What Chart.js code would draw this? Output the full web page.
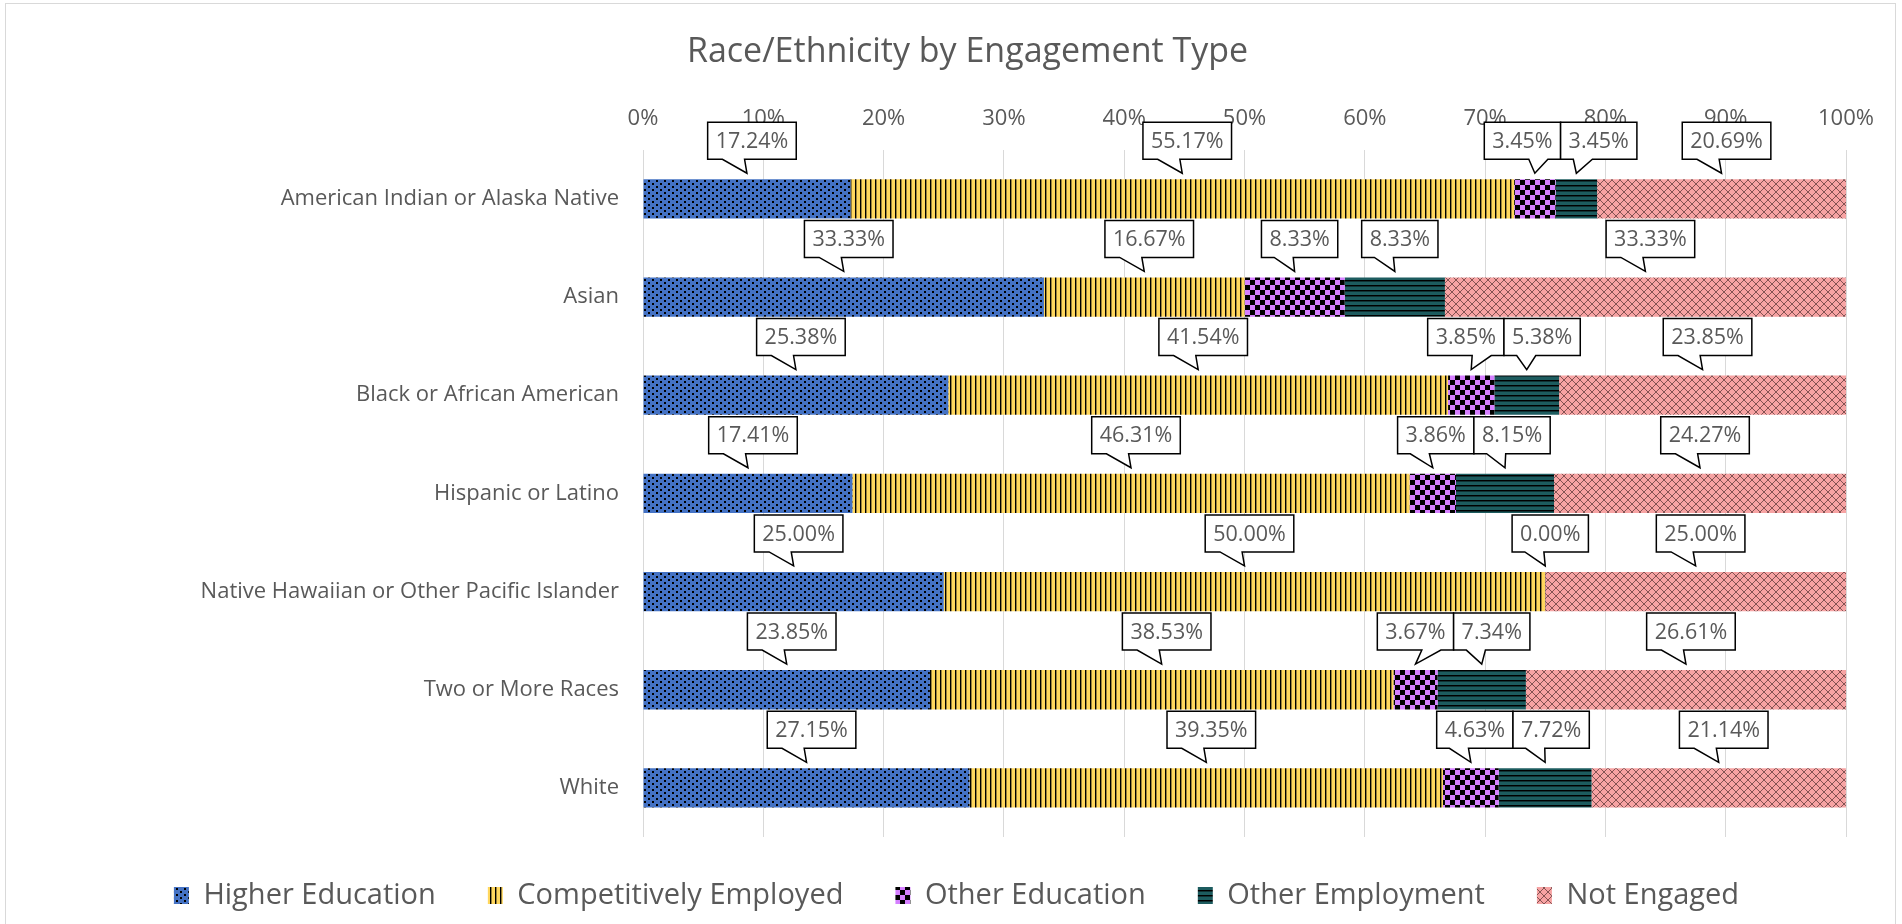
<!DOCTYPE html>
<html>
<head>
<meta charset="utf-8">
<title>Race/Ethnicity by Engagement Type</title>
<script src="https://cdn.jsdelivr.net/npm/chart.js@4.4.0/dist/chart.umd.min.js"></script>
<style>
  html, body { margin: 0; padding: 0; background: #fff; }
  #wrap { width: 1902px; height: 924px; position: relative; }
</style>
</head>
<body>
<div id="wrap"><canvas id="raceChart"></canvas></div>
<script>
// groups on the y axis
const groups = [
  'American Indian or Alaska Native',
  'Asian',
  'Black or African American',
  'Hispanic or Latino',
  'Native Hawaiian or Other Pacific Islander',
  'Two or More Races',
  'White'
];

// share of each group, in percent
const higherEducation       = [17.24, 33.33, 25.38, 17.41, 25.00, 23.85, 27.15];
const competitivelyEmployed = [55.17, 16.67, 41.54, 46.31, 50.00, 38.53, 39.35];
const otherEducation        = [3.45, 8.33, 3.85, 3.86, 0.00, 3.67, 4.63];
const otherEmployment       = [3.45, 8.33, 5.38, 8.15, null, 7.34, 7.72];
const notEngaged            = [20.69, 33.33, 23.85, 24.27, 25.00, 26.61, 21.14];

const tickLabels = ['0%', '10%', '20%', '30%', '40%', '50%', '60%', '70%', '80%', '90%', '100%'];

const FONT = '"Open Sans", "DejaVu Sans", sans-serif';
const GREY = '#595959';

const canvas = document.getElementById('raceChart');
const ctx = canvas.getContext('2d');

// small repeating tiles, like the excel pattern fills
function makePattern(w, h, bg, paint) {
  const c = document.createElement('canvas');
  c.width = w; c.height = h;
  const g = c.getContext('2d');
  g.fillStyle = bg;
  g.fillRect(0, 0, w, h);
  paint(g);
  return ctx.createPattern(c, 'repeat');
}

const dotsFill = makePattern(8, 6, '#4472C4', g => {
  g.fillStyle = '#000';
  g.fillRect(0, 0, 2, 2);
  g.fillRect(4, 3, 2, 2);
});
const vertFill = makePattern(5, 1, '#FFD75E', g => {
  g.fillStyle = '#000';
  g.fillRect(0, 0, 1, 1);
  g.fillStyle = 'rgba(0,0,0,0.4)';
  g.fillRect(1, 0, 1, 1);
});
const checkFill = makePattern(10, 10, '#D580FF', g => {
  g.fillStyle = '#000';
  g.fillRect(0, 0, 5, 5);
  g.fillRect(5, 5, 5, 5);
});
const horizFill = makePattern(1, 5, '#1D5C5F', g => {
  g.fillStyle = '#000';
  g.fillRect(0, 0, 1, 1);
  g.fillStyle = 'rgba(0,0,0,0.45)';
  g.fillRect(0, 1, 1, 1);
});
const diamondFill = makePattern(8, 8, '#F7A3A3', g => {
  g.fillStyle = 'rgba(70,40,40,0.65)';
  for (let i = 0; i < 8; i++) {
    g.fillRect(i, i, 1, 1);
    g.fillRect(7 - i, i, 1, 1);
  }
});

// callout boxes above each segment
function drawCallout(c, item) {
  const h = 37;
  const left = item.cx - item.w / 2;
  const right = item.cx + item.w / 2;
  const bottom = item.boxBottom;
  const top = bottom - h;
  const onLeft = item.tipX < item.cx;
  const b1 = left + item.w * (onLeft ? 2 / 12 : 7 / 12);
  const b2 = left + item.w * (onLeft ? 5 / 12 : 10 / 12);
  c.beginPath();
  c.moveTo(left, top);
  c.lineTo(right, top);
  c.lineTo(right, bottom);
  c.lineTo(b2, bottom);
  c.lineTo(item.tipX, item.tipY);
  c.lineTo(b1, bottom);
  c.lineTo(left, bottom);
  c.closePath();
  c.fillStyle = '#fff';
  c.fill();
  c.lineWidth = 1.5;
  c.strokeStyle = '#000';
  c.stroke();
  c.fillStyle = GREY;
  c.textAlign = 'center';
  c.textBaseline = 'middle';
  c.fillText(item.text, item.cx, top + h / 2 + 1);
}

const calloutPlugin = {
  id: 'callouts',
  afterDatasetsDraw(chart) {
    const c = chart.ctx;
    c.save();
    c.font = '21.5px ' + FONT;
    const rows = groups.map(() => []);
    chart.data.datasets.forEach((ds, di) => {
      const meta = chart.getDatasetMeta(di);
      meta.data.forEach((bar, i) => {
        const v = ds.data[i];
        if (v === null || v === undefined) return;
        const p = bar.getProps(['x', 'y', 'base', 'height'], true);
        const text = v.toFixed(2) + '%';
        const w = c.measureText(text).width + 16;
        const tipX = (p.x + p.base) / 2;
        const barTop = p.y - p.height / 2;
        rows[i].push({ text, w, tipX, tipY: barTop - 6, cx: tipX + 5, boxBottom: barTop - 20 });
      });
    });
    rows.forEach(list => {
      list.sort((a, b) => a.tipX - b.tipX);
      for (let pass = 0; pass < 6; pass++) {
        for (let k = 1; k < list.length; k++) {
          const a = list[k - 1], b = list[k];
          const ov = (a.cx + a.w / 2) - (b.cx - b.w / 2);
          if (ov > 0) { a.cx -= ov / 2; b.cx += ov / 2; }
        }
      }
      list.forEach(item => drawCallout(c, item));
    });
    c.restore();
  }
};

// white page + thin frame; title and legend centred on the whole frame
const framePlugin = {
  id: 'frame',
  beforeDraw(chart) {
    const c = chart.ctx;
    c.save();
    c.fillStyle = '#fff';
    c.fillRect(0, 0, chart.width, chart.height);
    c.strokeStyle = '#D9D9D9';
    c.lineWidth = 1;
    c.strokeRect(5.5, 3.5, chart.width - 12, chart.height + 10);
    c.restore();
  },
  afterLayout(chart) {
    const t = chart.titleBlock;
    t.left += 42; t.right += 42;
    const lg = chart.legend;
    lg.left += 31; lg.right += 31;
    lg.top -= 8; lg.bottom -= 8;
  }
};

new Chart(ctx, {
  type: 'bar',
  data: {
    labels: groups,
    datasets: [
      { label: 'Higher Education', data: higherEducation, backgroundColor: dotsFill },
      { label: 'Competitively Employed', data: competitivelyEmployed, backgroundColor: vertFill },
      { label: 'Other Education', data: otherEducation, backgroundColor: checkFill },
      { label: 'Other Employment', data: otherEmployment, backgroundColor: horizFill },
      { label: 'Not Engaged', data: notEngaged, backgroundColor: diamondFill }
    ]
  },
  options: {
    indexAxis: 'y',
    responsive: true,
    maintainAspectRatio: false,
    animation: false,
    borderWidth: 0,
    categoryPercentage: 1,
    barPercentage: 0.4,
    layout: { padding: { left: 5, right: 56, top: 0, bottom: 0 } },
    scales: {
      x: {
        position: 'top',
        stacked: true,
        min: 0,
        max: 100,
        ticks: {
          stepSize: 10,
          padding: 18,
          color: GREY,
          font: { family: FONT, size: 22 },
          callback: (v, i) => tickLabels[i]
        },
        grid: { color: '#D9D9D9', lineWidth: 1, drawTicks: false },
        border: { display: false },
        afterFit: s => { s.height = 44; }
      },
      y: {
        stacked: true,
        ticks: {
          padding: 24,
          color: GREY,
          font: { family: FONT, size: 22 }
        },
        grid: { display: false, drawTicks: false },
        border: { display: false },
        afterFit: s => { s.width = 638; }
      }
    },
    plugins: {
      title: {
        display: true,
        text: 'Race/Ethnicity by Engagement Type',
        color: GREY,
        font: { family: FONT, size: 34, weight: 'normal' },
        padding: { top: 32, bottom: 33 }
      },
      legend: {
        position: 'bottom',
        maxHeight: 87,
        labels: {
          boxWidth: 15,
          boxHeight: 17,
          padding: 52,
          color: GREY,
          font: { family: FONT, size: 29 }
        }
      },
      tooltip: { enabled: false }
    }
  },
  plugins: [framePlugin, calloutPlugin]
});
</script>
</body>
</html>
